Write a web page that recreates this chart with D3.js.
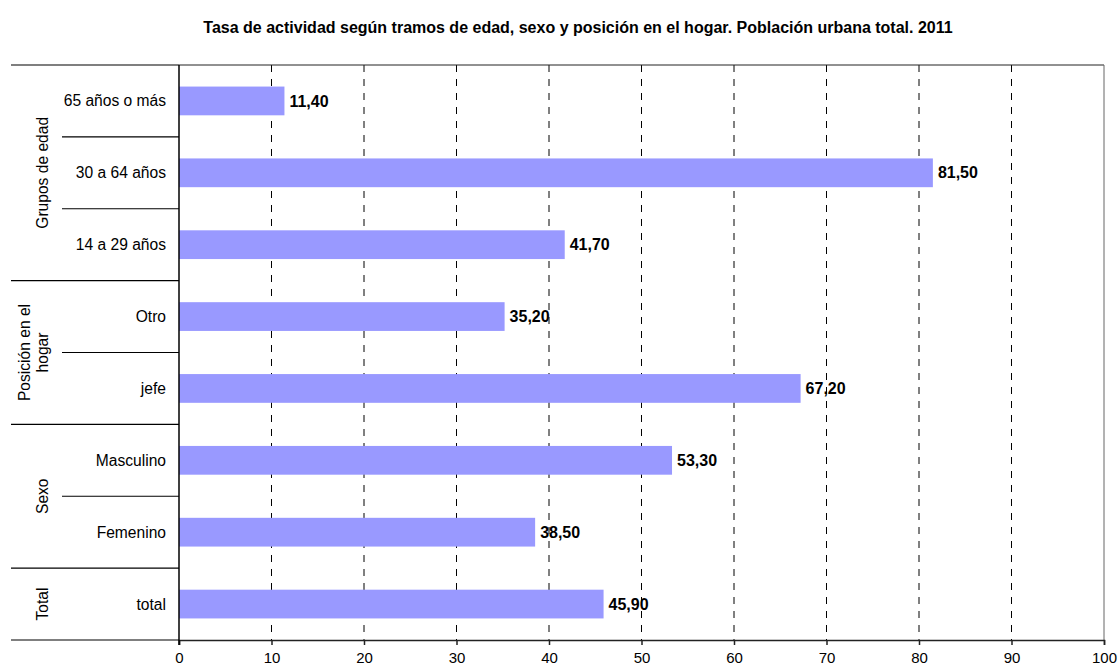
<!DOCTYPE html>
<html>
<head>
<meta charset="utf-8">
<script src="https://cdn.jsdelivr.net/npm/d3@7"></script>
<style>
  body { margin: 0; background: #fff; }
  svg { font-family: "Liberation Sans", Arial, sans-serif; }
</style>
</head>
<body>
<div id="chart"></div>
<script>
const title = "Tasa de actividad según tramos de edad, sexo y posición en el hogar. Población urbana total. 2011";
// categories from top to bottom
const categories = ["65 años o más", "30 a 64 años", "14 a 29 años", "Otro", "jefe", "Masculino", "Femenino", "total"];
const values = [11.4, 81.5, 41.7, 35.2, 67.2, 53.3, 38.5, 45.9];
const groups = [
    { name: ["Grupos de edad"], from: 0, to: 2 },
    { name: ["Posición en el", "hogar"], from: 3, to: 4 },
    { name: ["Sexo"], from: 5, to: 6 },
    { name: ["Total"], from: 7, to: 7 }
];
const xTicks = [0, 10, 20, 30, 40, 50, 60, 70, 80, 90, 100];

const width = 1119, height = 669;
const plotLeft = 179, plotRight = 1104, plotTop = 65, plotBottom = 640;

const svg = d3.select("#chart").append("svg")
    .attr("width", width)
    .attr("height", height);

const x = d3.scaleLinear().domain([0, 100]).range([plotLeft, plotRight]);
const y = d3.scaleBand().domain(categories).range([plotTop, plotBottom]).paddingInner(0.6).paddingOuter(0.3);
const yb = d3.scaleBand().domain(categories).range([plotTop, plotBottom]);

svg.append("text")
    .attr("x", 578).attr("y", 33)
    .attr("text-anchor", "middle")
    .style("font-size", "16px").style("font-weight", "bold")
    .text(title);

// grid
svg.append("g").selectAll("line").data(xTicks.filter(d => d > 0 && d < 100)).join("line")
    .attr("x1", d => x(d)).attr("x2", d => x(d))
    .attr("y1", plotTop).attr("y2", plotBottom)
    .attr("stroke", "#000").attr("stroke-width", 1)
    .attr("stroke-dasharray", "7,7");

// frame top / right
svg.append("line").attr("x1", plotLeft).attr("x2", plotRight).attr("y1", plotTop).attr("y2", plotTop)
    .attr("stroke", "#222").attr("stroke-width", 1);
svg.append("line").attr("x1", plotRight).attr("x2", plotRight).attr("y1", plotTop).attr("y2", plotBottom)
    .attr("stroke", "#666").attr("stroke-width", 1);

// bars
svg.append("g").selectAll("rect").data(values).join("rect")
    .attr("x", x(0))
    .attr("y", (d, i) => y(categories[i]))
    .attr("width", d => x(d) - x(0))
    .attr("height", y.bandwidth())
    .attr("fill", "#9999FF");

svg.append("g").selectAll("text").data(values).join("text")
    .attr("x", d => x(d) + 5)
    .attr("y", (d, i) => y(categories[i]) + y.bandwidth() / 2)
    .attr("dy", "0.35em")
    .style("font-size", "16px").style("font-weight", "bold")
    .text(d => d.toFixed(2).replace(".", ","));

// x axis
const xAxis = d3.axisBottom(x).tickValues(xTicks).tickSize(5).tickPadding(7);
const gx = svg.append("g").attr("transform", `translate(0,${plotBottom})`).call(xAxis);
gx.select(".domain").attr("stroke", "#222").attr("stroke-width", 1.5);
gx.selectAll(".tick line").attr("stroke", "#222").attr("stroke-width", 1.5);
gx.selectAll(".tick text").style("font-size", "15px").style("font-family", "Liberation Sans, Arial, sans-serif").attr("fill", "#000");

// y axis line
svg.append("line").attr("x1", plotLeft).attr("x2", plotLeft).attr("y1", plotTop).attr("y2", plotBottom + 5)
    .attr("stroke", "#000").attr("stroke-width", 1.5);

// category labels
svg.append("g").selectAll("text").data(categories).join("text")
    .attr("x", plotLeft - 13)
    .attr("y", d => yb(d) + yb.bandwidth() / 2)
    .attr("dy", "0.35em")
    .attr("text-anchor", "end")
    .style("font-size", "15.6px")
    .text(d => d);

// group separators
const longY = [plotTop].concat(groups.map(g => yb(categories[g.to]) + yb.bandwidth()));
svg.append("g").selectAll("line").data(longY).join("line")
    .attr("x1", 11).attr("x2", plotLeft)
    .attr("y1", d => d).attr("y2", d => d)
    .attr("stroke", "#000").attr("stroke-width", 1.2);

const shortY = [];
groups.forEach(g => { for (let i = g.from; i < g.to; i++) shortY.push(yb(categories[i]) + yb.bandwidth()); });
svg.append("g").selectAll("line").data(shortY).join("line")
    .attr("x1", 62).attr("x2", plotLeft)
    .attr("y1", d => d).attr("y2", d => d)
    .attr("stroke", "#000").attr("stroke-width", 1.2);

// group labels, rotated; last line stays on x=43, earlier lines step left
groups.forEach(g => {
    const cy = (yb(categories[g.from]) + yb(categories[g.to]) + yb.bandwidth()) / 2;
    const t = svg.append("text")
        .attr("transform", `translate(43,${cy}) rotate(-90)`)
        .attr("text-anchor", "middle")
        .style("font-size", "15.6px");
    const n = g.name.length;
    g.name.forEach((s, k) => {
        t.append("tspan").attr("x", 0)
            .attr("dy", k === 0 ? `${0.35 - (n - 1) * 1.2}em` : "1.2em")
            .text(s);
    });
});
</script>
</body>
</html>
